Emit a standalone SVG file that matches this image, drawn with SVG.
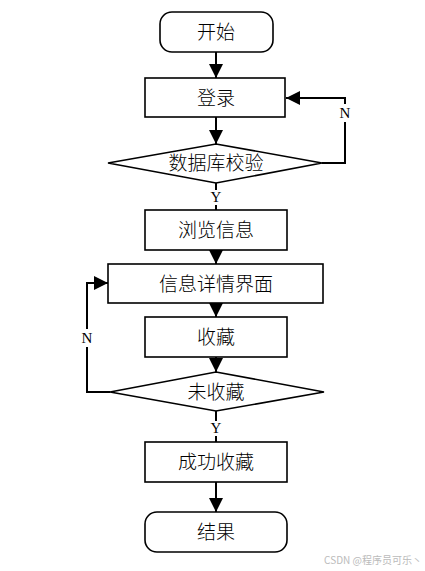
<svg xmlns="http://www.w3.org/2000/svg" width="425" height="571" viewBox="0 0 425 571">
<defs>
<style>
.box{fill:#fff;stroke:#000;stroke-width:1.6}
.t{font-family:"Liberation Serif","Noto Sans CJK SC",serif;font-size:19px;font-weight:300;fill:#000;text-anchor:middle;dominant-baseline:central}
.lbl{font-family:"Liberation Serif","Noto Sans CJK SC",serif;font-size:15px;fill:#000;text-anchor:middle;dominant-baseline:central}
.ln{fill:none;stroke:#000;stroke-width:2}
.wm{font-family:"Noto Sans CJK SC","Liberation Sans",sans-serif;font-size:10px;fill:#bbb;text-anchor:end}
</style>
<marker id="ah" viewBox="0 0 14 14" refX="14" refY="7" markerWidth="14" markerHeight="14" markerUnits="userSpaceOnUse" orient="auto">
<path d="M0,0 L14,7 L0,14 Z" fill="#000"/>
</marker>
</defs>
<rect width="425" height="571" fill="#fff"/>
<g id="connectors">
<line class="ln" x1="216" y1="52" x2="216" y2="78" marker-end="url(#ah)"/>
<line class="ln" x1="216" y1="117" x2="216" y2="144" marker-end="url(#ah)"/>
<polyline class="ln" points="322,163 345,163 345,98 286,98" marker-end="url(#ah)"/>
<rect x="337" y="104" width="16" height="18" fill="#fff"/>
<text class="lbl" x="345" y="113">N</text>
<line class="ln" x1="216" y1="183" x2="216" y2="210" stroke-width="1"/>
<rect x="208" y="190" width="16" height="15" fill="#fff"/>
<text class="lbl" x="216" y="197">Y</text>
<line class="ln" x1="216" y1="250" x2="216" y2="264" marker-end="url(#ah)"/>
<line class="ln" x1="216" y1="303" x2="216" y2="317" marker-end="url(#ah)"/>
<line class="ln" x1="216" y1="357" x2="216" y2="372" marker-end="url(#ah)"/>
<polyline class="ln" points="110,392 87,392 87,283 108,283" marker-end="url(#ah)"/>
<rect x="79" y="329" width="16" height="18" fill="#fff"/>
<text class="lbl" x="87" y="338">N</text>
<line class="ln" x1="216" y1="411" x2="216" y2="442" stroke-width="1"/>
<rect x="208" y="421" width="16" height="15" fill="#fff"/>
<text class="lbl" x="216" y="428">Y</text>
<line class="ln" x1="216" y1="482" x2="216" y2="512" marker-end="url(#ah)"/>
</g>
<g id="start"><rect class="box" x="160" y="12" width="113" height="40" rx="12"/><text class="t" x="216" y="32">开始</text></g>
<g id="login"><rect class="box" x="145" y="78" width="140" height="39"/><text class="t" x="216" y="98">登录</text></g>
<g id="dbcheck"><polygon class="box" points="216,144 322,163 216,183 108,163"/><text class="t" x="216" y="163">数据库校验</text></g>
<g id="browse"><rect class="box" x="145" y="210" width="142" height="40"/><text class="t" x="216" y="230">浏览信息</text></g>
<g id="detail"><rect class="box" x="108" y="264" width="215" height="39"/><text class="t" x="216" y="284">信息详情界面</text></g>
<g id="collect"><rect class="box" x="145" y="317" width="142" height="40"/><text class="t" x="216" y="337">收藏</text></g>
<g id="notcollected"><polygon class="box" points="216,372 324,392 216,411 110,392"/><text class="t" x="216" y="392">未收藏</text></g>
<g id="success"><rect class="box" x="145" y="442" width="142" height="40"/><text class="t" x="216" y="462">成功收藏</text></g>
<g id="end"><rect class="box" x="145" y="512" width="142" height="40" rx="12"/><text class="t" x="216" y="532">结果</text></g>
<text class="wm" x="422" y="564">CSDN @程序员可乐丶</text>
</svg>
